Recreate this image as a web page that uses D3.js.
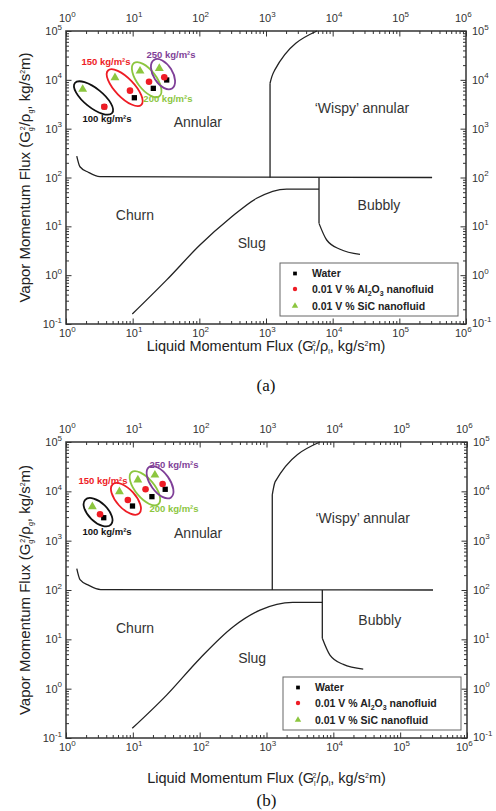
<!DOCTYPE html>
<html>
<head>
<meta charset="utf-8">
<script src="https://cdn.jsdelivr.net/npm/d3@7"></script>
<style>
  body { margin: 0; background: #fff; }
  text { font-family: "Liberation Sans", Arial, sans-serif; }
</style>
</head>
<body>
<script>
// axis decades
var xExps = [0, 1, 2, 3, 4, 5, 6];
var yExps = [-1, 0, 1, 2, 3, 4, 5];

// mass flux groups
var fluxLabels = ['100 kg/m²s', '150 kg/m²s', '200 kg/m²s', '250 kg/m²s'];

// panel (a) data points
var waterA_x = [3.76, 10.6, 20.4, 32.4];
var waterA_y = [2820, 4300, 6700, 9930];
var al2o3A_x = [3.76, 9.12, 17.6, 29.8];
var al2o3A_y = [2820, 6000, 9160, 11300];
var sicA_x = [1.78, 5.43, 12.9, 25.1];
var sicA_y = [6400, 11070, 15150, 17200];

// panel (b) data points
var waterB_x = [3.67, 9.88, 19.3, 30.5];
var waterB_y = [2920, 5040, 7800, 11000];
var al2o3B_x = [3.23, 8.42, 15.5, 27.9];
var al2o3B_y = [3420, 6670, 11000, 14100];
var sicB_x = [2.48, 6.3, 11.9, 21.4];
var sicB_y = [4880, 9840, 17000, 21400];

// group label anchors
var labelA_x = [4.12, 3.98, 33.8, 37.6];
var labelA_y = [1580, 23200, 4050, 32000];
var labelB_x = [4.12, 3.58, 41.3, 41.3];
var labelB_y = [1500, 16200, 4390, 34200];

// flow regime boundaries, panel (a)
var churnA = [[1.45, 275], [1.62, 166], [2.16, 128], [3.23, 104], [3.1e5, 100]];
var slugA = [[9.87, 0.16], [32.4, 0.8], [102, 4.14], [288, 14.6], [724, 37.5], [2040, 58], [6240, 58]];
var bubblyLineA = [[6240, 100], [6240, 11.5]];
var bubblyCurveA = [[6240, 11.5], [8130, 5.25], [12900, 3.39], [25700, 2.67]];
var wispyLineA = [[1150, 100], [1150, 8500]];
var wispyCurveA = [[1150, 8500], [1220, 11500], [1350, 15800], [5800, 1e5]];

// flow regime boundaries, panel (b)
var churnB = [[1.45, 270], [1.62, 162], [2.2, 124], [3.3, 102], [3.1e5, 100]];
var slugB = [[9.8, 0.157], [32, 0.74], [101, 4.1], [318, 18], [800, 39], [2460, 56], [6840, 56]];
var bubblyLineB = [[6840, 100], [6840, 10.5]];
var bubblyCurveB = [[6840, 10.5], [8900, 4.8], [14100, 3.1], [28000, 2.5]];
var wispyLineB = [[1220, 100], [1220, 8500]];
var wispyCurveB = [[1220, 8500], [1270, 11500], [1350, 15700], [6300, 1e5]];

// regime names
var regionNames = ['Churn', 'Slug', 'Bubbly', 'Annular', '‘Wispy’ annular'];
var regionX = [10.8, 610, 49500, 95, 27500];
var regionA_y = [17, 4.5, 27, 1370, 2650];
var regionB_y = [16.7, 4.1, 24, 1410, 2840];

var legendNames = ['Water', 'Al2O3', 'SiC'];

var red = '#ee1c25', green = '#8cc63f', purple = '#7f3f98';
var groupColors = ['#111', red, green, purple];

var svg = d3.select('body').append('svg')
    .attr('width', 496)
    .attr('height', 811);

var panels = [
  { left: 66, right: 466, top: 31, bottom: 324, tag: '(a)', titleY: 351, tagY: 391,
    water: [waterA_x, waterA_y], al2o3: [al2o3A_x, al2o3A_y], sic: [sicA_x, sicA_y],
    labels: [labelA_x, labelA_y], regionY: regionA_y,
    curves: [churnA, slugA, bubblyCurveA, wispyCurveA], lines: [bubblyLineA, wispyLineA],
    legend: { x: 280, y: 263 } },
  { left: 66, right: 467, top: 442, bottom: 738, tag: '(b)', titleY: 783, tagY: 806,
    water: [waterB_x, waterB_y], al2o3: [al2o3B_x, al2o3B_y], sic: [sicB_x, sicB_y],
    labels: [labelB_x, labelB_y], regionY: regionB_y,
    curves: [churnB, slugB, bubblyCurveB, wispyCurveB], lines: [bubblyLineB, wispyLineB],
    legend: { x: 283, y: 677 } }
];

function minorTicks(exps) {
  var out = [];
  exps.slice(0, -1).forEach(function (e) {
    for (var k = 2; k <= 9; k++) out.push(k * Math.pow(10, e));
  });
  return out;
}

function powLabel(sel, e) {
  sel.text('10');
  sel.append('tspan').attr('dy', -5.5).attr('font-size', 8).text(e);
}

// G_s^2/rho_s, kg/s^2m with stacked sub/superscripts
function fluxTitle(sel, lead, s) {
  sel.text(lead + ' (G');
  sel.append('tspan').attr('font-size', 7).attr('dy', 3).text(s);
  sel.append('tspan').attr('font-size', 7).attr('dx', -3).attr('dy', -8).text('2');
  sel.append('tspan').attr('dy', 5).text('/ρ');
  sel.append('tspan').attr('font-size', 7).attr('dy', 3).text(s);
  sel.append('tspan').attr('dy', -3).text(', kg/s');
  sel.append('tspan').attr('font-size', 7).attr('dy', -5).text('2');
  sel.append('tspan').attr('dy', 5).text('m)');
}

function drawPanel(p) {
  var x = d3.scaleLog().domain([1, 1e6]).range([p.left, p.right]);
  var y = d3.scaleLog().domain([0.1, 1e5]).range([p.bottom, p.top]);
  var g = svg.append('g');

  var xMaj = xExps.map(function (e) { return Math.pow(10, e); });
  var yMaj = yExps.map(function (e) { return Math.pow(10, e); });
  var xMin = minorTicks(xExps), yMin = minorTicks(yExps);

  // inward ticks on all four sides
  var axes = [
    [d3.axisTop(x), 'translate(0,' + p.bottom + ')', xMaj, xMin],
    [d3.axisBottom(x), 'translate(0,' + p.top + ')', xMaj, xMin],
    [d3.axisRight(y), 'translate(' + p.left + ',0)', yMaj, yMin],
    [d3.axisLeft(y), 'translate(' + p.right + ',0)', yMaj, yMin]
  ];
  axes.forEach(function (a) {
    [[a[2], 5.5], [a[3], 3]].forEach(function (t) {
      g.append('g')
        .attr('transform', a[1])
        .call(a[0].tickValues(t[0]).tickSize(t[1]).tickSizeOuter(0).tickFormat(''))
        .call(function (s) {
          s.select('.domain').remove();
          s.selectAll('line').attr('stroke', '#333');
        });
    });
  });

  g.append('rect')
    .attr('x', p.left).attr('y', p.top)
    .attr('width', p.right - p.left).attr('height', p.bottom - p.top)
    .attr('fill', 'none').attr('stroke', '#333').attr('stroke-width', 1.5);

  // tick labels (last x label pulled left, as in the original)
  xExps.forEach(function (e) {
    var px = x(Math.pow(10, e)) - (e === 6 ? 11 : 7);
    g.append('text').attr('x', px).attr('y', p.bottom + 13)
      .attr('font-size', 11).attr('fill', '#333').call(powLabel, e);
    g.append('text').attr('x', px).attr('y', p.top - 9)
      .attr('font-size', 11).attr('fill', '#333').call(powLabel, e);
  });
  yExps.forEach(function (e) {
    var py = y(Math.pow(10, e)) + 4;
    g.append('text').attr('x', p.left - 4).attr('y', py).attr('text-anchor', 'end')
      .attr('font-size', 11).attr('fill', '#333').call(powLabel, e);
    g.append('text').attr('x', p.right + 6).attr('y', py - (e === -1 ? 1 : 0))
      .attr('font-size', 11).attr('fill', '#333').call(powLabel, e);
  });

  // regime boundaries
  var smooth = d3.line()
    .x(function (d) { return x(d[0]); })
    .y(function (d) { return y(d[1]); })
    .curve(d3.curveMonotoneX);
  var straight = d3.line()
    .x(function (d) { return x(d[0]); })
    .y(function (d) { return y(d[1]); });
  p.curves.forEach(function (c) {
    g.append('path').attr('d', smooth(c))
      .attr('fill', 'none').attr('stroke', '#222').attr('stroke-width', 1.3);
  });
  p.lines.forEach(function (c) {
    g.append('path').attr('d', straight(c))
      .attr('fill', 'none').attr('stroke', '#222').attr('stroke-width', 1.3);
  });

  // regime names
  regionNames.forEach(function (n, i) {
    g.append('text')
      .attr('x', x(regionX[i])).attr('y', y(p.regionY[i])).attr('dy', '0.35em')
      .attr('text-anchor', 'middle').attr('font-size', 14).attr('fill', '#333')
      .text(n);
  });

  // ellipses around each mass flux group
  fluxLabels.forEach(function (lab, i) {
    var x1 = x(p.sic[0][i]), y1 = y(p.sic[1][i]);
    var x2 = x(p.water[0][i]), y2 = y(p.water[1][i]);
    var dist = Math.hypot(x2 - x1, y2 - y1);
    var ang = Math.atan2(y2 - y1, x2 - x1) * 180 / Math.PI;
    g.append('ellipse')
      .attr('transform', 'translate(' + (x1 + x2) / 2 + ',' + (y1 + y2) / 2 + ') rotate(' + ang + ')')
      .attr('rx', dist / 2 + 10).attr('ry', 9.5)
      .attr('fill', 'none').attr('stroke', groupColors[i]).attr('stroke-width', 1.8);
    g.append('text')
      .attr('x', x(p.labels[0][i])).attr('y', y(p.labels[1][i])).attr('dy', '0.35em')
      .attr('text-anchor', 'middle').attr('font-size', 9.5).attr('font-weight', 'bold')
      .attr('fill', groupColors[i])
      .text(lab);
  });

  // data markers
  var sq = d3.symbol().type(d3.symbolSquare).size(28);
  var tri = d3.symbol().type(d3.symbolTriangle).size(34);
  g.selectAll('.water').data(d3.range(p.water[0].length)).enter()
    .append('path').attr('class', 'water')
    .attr('transform', function (i) { return 'translate(' + x(p.water[0][i]) + ',' + y(p.water[1][i]) + ')'; })
    .attr('d', sq).attr('fill', '#000');
  g.selectAll('.al2o3').data(d3.range(p.al2o3[0].length)).enter()
    .append('circle').attr('class', 'al2o3')
    .attr('cx', function (i) { return x(p.al2o3[0][i]); })
    .attr('cy', function (i) { return y(p.al2o3[1][i]); })
    .attr('r', 3.3).attr('fill', red);
  g.selectAll('.sic').data(d3.range(p.sic[0].length)).enter()
    .append('path').attr('class', 'sic')
    .attr('transform', function (i) { return 'translate(' + x(p.sic[0][i]) + ',' + y(p.sic[1][i]) + ')'; })
    .attr('d', tri).attr('fill', green);

  // legend
  var L = p.legend;
  g.append('rect').attr('x', L.x).attr('y', L.y).attr('width', 178).attr('height', 53)
    .attr('fill', '#fff').attr('stroke', '#666').attr('stroke-width', 1);
  var rowY = [L.y + 10.5, L.y + 26, L.y + 43];
  var mx = L.x + 15, tx = L.x + 32;
  g.append('path').attr('transform', 'translate(' + mx + ',' + rowY[0] + ')')
    .attr('d', d3.symbol().type(d3.symbolSquare).size(14)).attr('fill', '#000');
  g.append('circle').attr('cx', mx).attr('cy', rowY[1]).attr('r', 2.2).attr('fill', red);
  g.append('path').attr('transform', 'translate(' + mx + ',' + rowY[2] + ')')
    .attr('d', d3.symbol().type(d3.symbolTriangle).size(18)).attr('fill', green);

  var lt = function (i) {
    return g.append('text').attr('x', tx).attr('y', rowY[i]).attr('dy', '0.35em')
      .attr('font-size', 10.5).attr('font-weight', 'bold').attr('fill', '#222');
  };
  lt(0).text(legendNames[0]);
  var t1 = lt(1).text('0.01 V % Al');
  t1.append('tspan').attr('font-size', 7).attr('dy', 3).text('2');
  t1.append('tspan').attr('dy', -3).text('O');
  t1.append('tspan').attr('font-size', 7).attr('dy', 3).text('3');
  t1.append('tspan').attr('dy', -3).text(' nanofluid');
  lt(2).text('0.01 V % ' + legendNames[2] + ' nanofluid');

  // axis titles
  g.append('text')
    .attr('x', (p.left + p.right) / 2).attr('y', p.titleY)
    .attr('text-anchor', 'middle').attr('font-size', 14.5).attr('fill', '#222')
    .call(fluxTitle, 'Liquid Momentum Flux', 'l');
  g.append('text')
    .attr('transform', 'translate(30,' + (p.top + p.bottom) / 2 + ') rotate(-90)')
    .attr('text-anchor', 'middle').attr('font-size', 15).attr('fill', '#222')
    .call(fluxTitle, 'Vapor Momentum Flux ', 'g');

  g.append('text')
    .attr('x', (p.left + p.right) / 2).attr('y', p.tagY)
    .attr('text-anchor', 'middle').attr('font-size', 17)
    .style('font-family', '"Liberation Serif", "Times New Roman", serif')
    .attr('fill', '#111')
    .text(p.tag);
}

panels.forEach(drawPanel);
</script>
</body>
</html>
